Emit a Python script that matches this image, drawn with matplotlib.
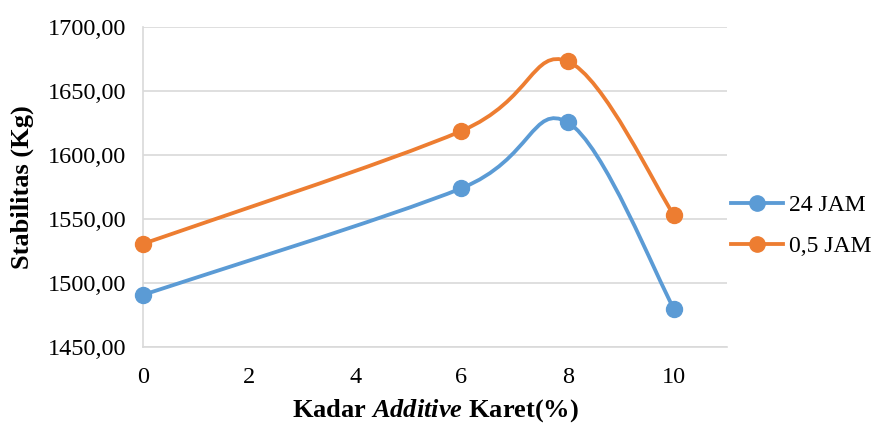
import numpy as np
import matplotlib
matplotlib.use("Agg")
from matplotlib import pyplot as plt
from matplotlib.path import Path
from matplotlib.patches import PathPatch
from matplotlib.lines import Line2D
from matplotlib.ticker import FuncFormatter

# data
kadar = [0, 6, 8, 10]
jam_24 = [1490.6, 1574.0, 1625.5, 1479.8]
jam_05 = [1530.5, 1618.8, 1673.2, 1553.0]
labels = ["24 JAM", "0,5 JAM"]
colors = ["#5B9BD5", "#ED7D31"]

plt.rcParams['font.family'] = ['Liberation Serif']
plt.rcParams['mathtext.fontset'] = 'custom'
plt.rcParams['mathtext.rm'] = 'Liberation Serif'
plt.rcParams['mathtext.bf'] = 'Liberation Serif:bold'
plt.rcParams['mathtext.it'] = 'Liberation Serif:italic:bold'


def smooth_path(x, y):
    # excel style smoothed line: cubic bezier through the points
    x = np.asarray(x, float)
    y = np.asarray(y, float)
    n = len(x)
    verts = [(x[0], y[0])]
    codes = [Path.MOVETO]
    for i in range(n - 1):
        p0 = np.array([x[max(i - 1, 0)], y[max(i - 1, 0)]])
        p1 = np.array([x[i], y[i]])
        p2 = np.array([x[i + 1], y[i + 1]])
        p3 = np.array([x[min(i + 2, n - 1)], y[min(i + 2, n - 1)]])
        c1 = p1 + (p2 - p0) / 6.0
        c2 = p2 - (p3 - p1) / 6.0
        verts += [tuple(c1), tuple(c2), tuple(p2)]
        codes += [Path.CURVE4] * 3
    return Path(verts, codes)


fig = plt.figure(figsize=(8.76, 4.23), dpi=100)
ax = fig.add_axes([0.163, 0.18, 0.667, 0.756])
ax.set_xlim(0, 11)
ax.set_ylim(1450, 1700)

for ys, c in zip([jam_24, jam_05], colors):
    ax.add_patch(PathPatch(smooth_path(kadar, ys), facecolor='none',
                           edgecolor=c, lw=2.75, zorder=3, capstyle='round'))
    ax.plot(kadar, ys, 'o', color=c, ms=11.5, zorder=4, clip_on=False)

ax.set_xticks([0, 2, 4, 6, 8, 10])
ax.set_yticks(np.arange(1450, 1701, 50))
ax.yaxis.set_major_formatter(FuncFormatter(lambda v, p: ("%.2f" % v).replace('.', ',')))
ax.tick_params(length=0, labelsize=17.5)
ax.tick_params(axis='y', pad=12)
ax.tick_params(axis='x', pad=14.5)
ax.grid(axis='y', color='#D9D9D9', lw=1.2)
ax.set_axisbelow(True)
for s in ['top', 'right']:
    ax.spines[s].set_visible(False)
for s in ['left', 'bottom']:
    ax.spines[s].set_color('#D9D9D9')
    ax.spines[s].set_linewidth(1.2)

handles = [Line2D([], [], color=c, lw=2.75, marker='o', ms=11) for c in colors]
fig.legend(handles, labels, loc='center left', bbox_to_anchor=(0.835, 0.466),
           frameon=False, fontsize=17, handlelength=2.2, handletextpad=0.25,
           labelspacing=0.8, borderpad=0, borderaxespad=0)

fig.text(0.026, 0.558, 'Stabilitas (Kg)', rotation=90, ha='center', va='center',
         fontsize=19, fontweight='bold')
fig.text(0.497, 0.014, r'$\mathbf{Kadar}\ \mathit{Additive}\ \mathbf{Karet(\%)}$',
         ha='center', va='baseline', fontsize=19)

fig.savefig('out.png', dpi=100)
